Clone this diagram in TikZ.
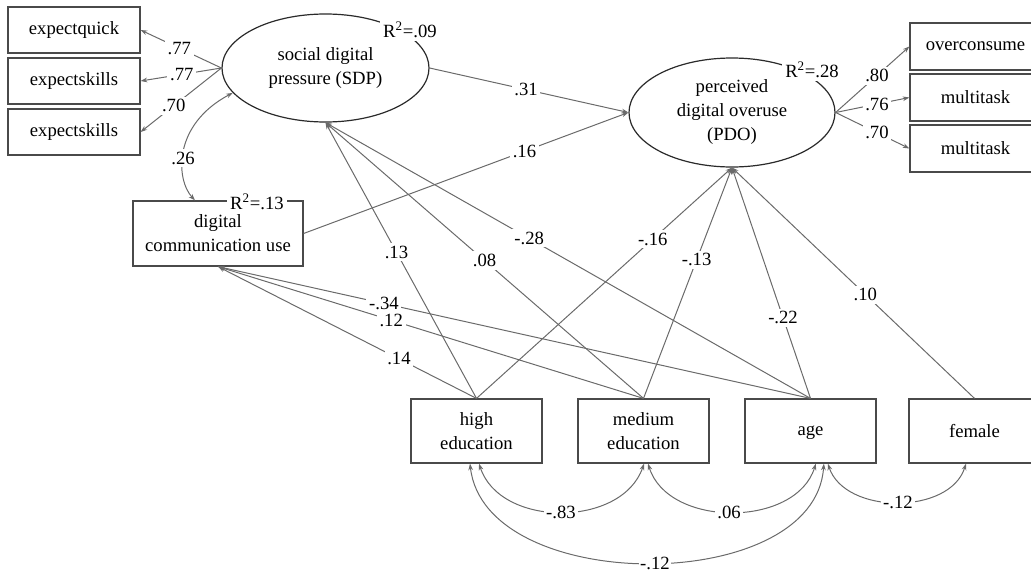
\documentclass[tikz,border=0pt]{standalone}
\usepackage{fontspec}
\setmainfont{Liberation Serif}
\usetikzlibrary{arrows.meta,shapes.geometric}
\definecolor{boxc}{HTML}{4A4A4A}
\definecolor{ellc}{HTML}{2A2A2A}
\definecolor{linec}{HTML}{6A6A6A}
\begin{document}
\begin{tikzpicture}[x=0.75pt,y=-0.75pt,
  font=\fontsize{14}{18}\selectfont,
  obs/.style={draw=boxc, line width=0.9pt, minimum width=98.25pt, minimum height=48pt, inner sep=0pt, align=center},
  lbox/.style={obs, minimum width=99pt, minimum height=34.5pt},
  rbox/.style={obs, minimum width=98.25pt, minimum height=35.25pt},
  lat/.style={ellipse, draw=ellc, line width=0.9pt, minimum width=155.25pt, minimum height=81pt, inner sep=0pt, align=center},
  conn/.style={draw=linec, line width=0.75pt, -{Stealth[length=5pt,width=3.5pt]}},
  cov/.style={draw=linec, line width=0.75pt, {Stealth[length=5pt,width=3.5pt]}-{Stealth[length=5pt,width=3.5pt]}},
  lab/.style={fill=white, inner sep=2pt},
  r2/.style={fill=white, inner sep=2.5pt}
]
\useasboundingbox (0,0) rectangle (1031,575);
\clip (0,0) rectangle (1031,575);

% nodes
\node[lbox] (eq)  at (74,30)  {expectquick};
\node[lbox] (es1) at (74,81)  {expectskills};
\node[lbox] (es2) at (74,132) {expectskills};

\node[lat] (sdp) at (325.5,68) {social digital\\pressure (SDP)};
\node[lat, minimum width=154.5pt, minimum height=81.75pt] (pdo) at (732,112.5) {perceived\\digital overuse\\(PDO)};

\node[rbox] (oc)  at (975.5,46.5)  {overconsume};
\node[rbox] (mt1) at (975.5,97.5)  {multitask};
\node[rbox] (mt2) at (975.5,148.5) {multitask};

\node[obs, minimum width=127.5pt, minimum height=48.75pt] (dcu) at (218,233.5) {digital\\communication use};

\node[obs] (he)  at (476.5,431) {high\\education};
\node[obs] (me)  at (643.5,431) {medium\\education};
\node[obs, text depth=0pt] (age) at (810.5,431) {age};
\node[obs] (fem) at (974.5,431) {female};

% connectors (lines first)
\draw[conn] (sdp.west) -- (eq.east);
\draw[conn] (sdp.west) -- (es1.east);
\draw[conn] (sdp.west) -- (es2.east);
\draw[conn] (pdo.east) -- (oc.west);
\draw[conn] (pdo.east) -- (mt1.west);
\draw[conn] (pdo.east) -- (mt2.west);
\draw[conn] (sdp.east) -- (pdo.west);
\draw[conn] (dcu.east) -- (pdo.west);
\draw[conn] (he.north) -- (sdp.south);
\draw[conn] (me.north) -- (sdp.south);
\draw[conn] (age.north) -- (sdp.south);
\draw[conn] (he.north) -- (pdo.south);
\draw[conn] (me.north) -- (pdo.south);
\draw[conn] (age.north) -- (pdo.south);
\draw[conn] (fem.north) -- (pdo.south);
\draw[conn] (he.north) -- (dcu.south);
\draw[conn] (me.north) -- (dcu.south);
\draw[conn] (age.north) -- (dcu.south);

\draw[cov] ([xshift=-17.25pt]dcu.north) .. controls (176,180) and (172,125) .. (sdp.195);
\draw[cov] ([xshift=1.9pt]he.south) .. controls (500,528) and (622,528) .. ([xshift=0.4pt]me.south);
\draw[cov] ([xshift=3.4pt]me.south) .. controls (668,528) and (796,528) .. ([xshift=4pt]age.south);
\draw[cov] ([xshift=-4.9pt]he.south) .. controls (485,596) and (815,596) .. ([xshift=10pt]age.south);
\draw[cov] ([xshift=13pt]age.south) .. controls (845,515) and (950,515) .. ([xshift=-6.4pt]fem.south);

% labels
\path (sdp.west) -- node[lab,pos=0.52]{.77} (eq.east);
\path (sdp.west) -- node[lab,pos=0.49]{.77} (es1.east);
\path (sdp.west) -- node[lab,pos=0.59]{.70} (es2.east);
\path (pdo.east) -- node[lab,pos=0.56]{.80} (oc.west);
\path (pdo.east) -- node[lab,pos=0.56]{.76} (mt1.west);
\path (pdo.east) -- node[lab,pos=0.56]{.70} (mt2.west);
\path (sdp.east) -- node[lab,pos=0.485]{.31} (pdo.west);
\path (dcu.east) -- node[lab,pos=0.68]{.16} (pdo.west);
\path (he.north) -- node[lab,pos=0.53]{.13} (sdp.south);
\path (me.north) -- node[lab,pos=0.50]{.08} (sdp.south);
\path (age.north) -- node[lab,pos=0.58]{-.28} (sdp.south);
\path (he.north) -- node[lab,pos=0.69]{-.16} (pdo.south);
\path (me.north) -- node[lab,pos=0.60]{-.13} (pdo.south);
\path (age.north) -- node[lab,pos=0.35]{-.22} (pdo.south);
\path (fem.north) -- node[lab,pos=0.45]{.10} (pdo.south);
\path (he.north) -- node[lab,pos=0.30]{.14} (dcu.south);
\path (me.north) -- node[lab,pos=0.593]{.12} (dcu.south);
\path (age.north) -- node[lab,pos=0.72]{-.34} (dcu.south);

\node[lab] (c1) at (183,158) {.26};
\node[lab] (c2) at (561,512) {-.83};
\node[lab] (c3) at (729,512) {.06};
\node[lab, inner sep=1pt] (c4) at (655,563) {-.12};
\node[lab] (c5) at (898,502) {-.12};

\node[r2] (r2a) at (410,30)  {R\textsuperscript{2}=.09};
\node[r2] (r2b) at (812,70)  {R\textsuperscript{2}=.28};
\node[r2] (r2c) at (257,202) {R\textsuperscript{2}=.13};
\end{tikzpicture}
\end{document}
